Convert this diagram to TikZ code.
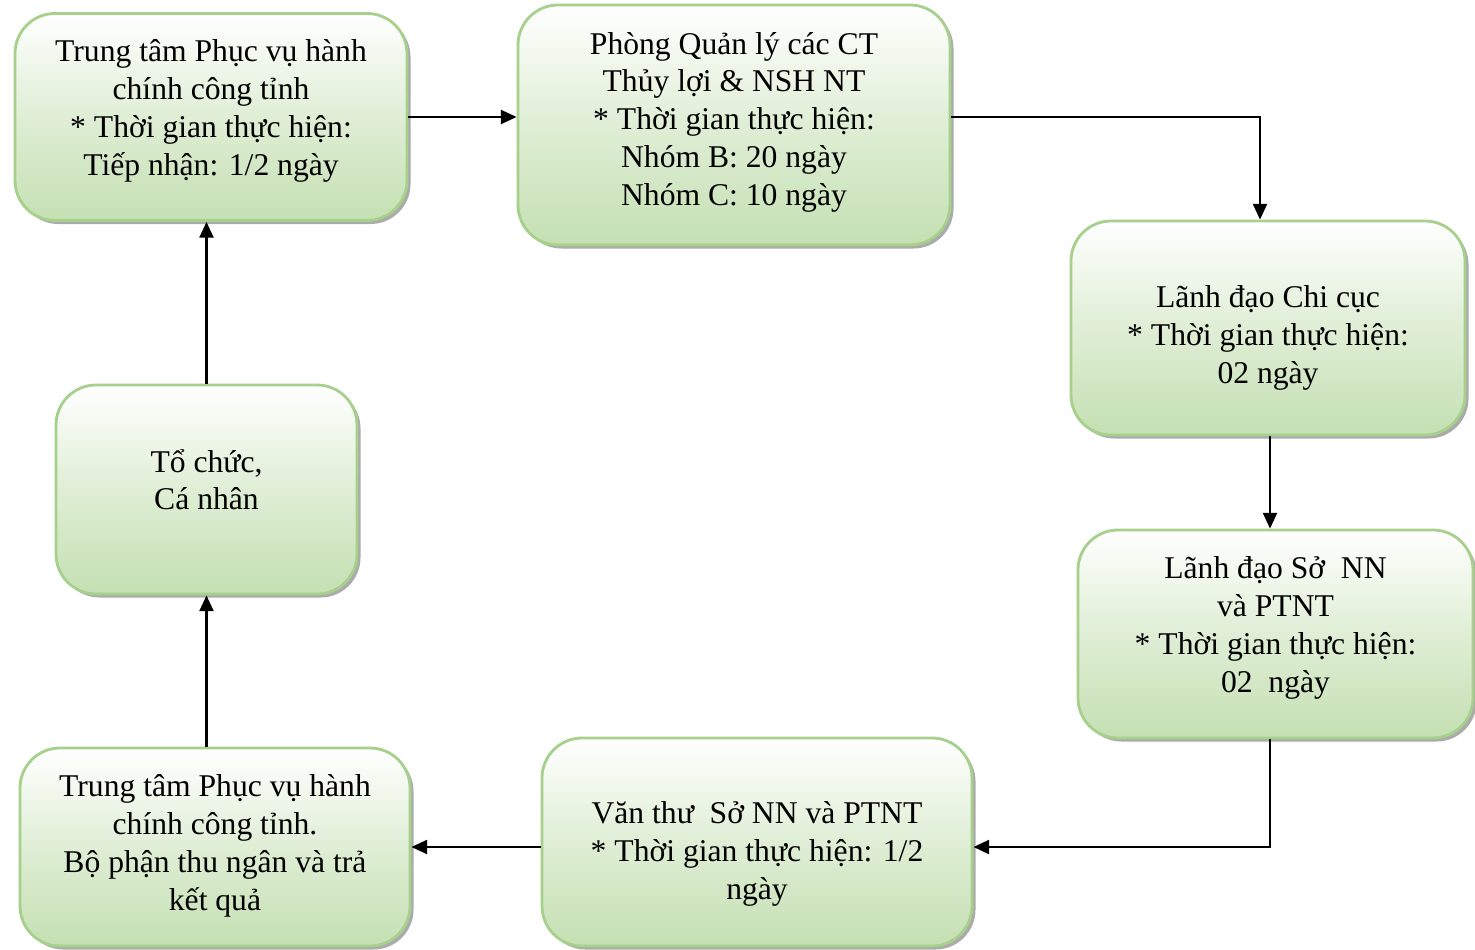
\documentclass[tikz,border=0pt]{standalone}
\usepackage{fontspec}
\setmainfont{Liberation Serif}
\usepackage{tikz}
\usetikzlibrary{positioning, arrows.meta, shadows}

\definecolor{boxgreen}{HTML}{C5E0B3}
\definecolor{boxedge}{HTML}{A6D08C}

% text lines of a stage, moved down by #1 inside its box
\newcommand{\stagetext}[2]{\raisebox{-#1}[\height][\depth]{\begin{tabular}{@{}c@{}}#2\end{tabular}}}

\begin{document}
\begin{tikzpicture}[->,>={Triangle[length=9pt,width=8pt]},line width=1.3pt,
        stage/.style={draw=boxedge, line width=1.6pt, rounded corners=0.8cm,
            top color=white, bottom color=boxgreen, middle color=boxgreen!55!white,
            drop shadow={shadow xshift=2pt, shadow yshift=-2pt, opacity=0.6, fill=black!55},
            inner sep=0pt, font=\fontsize{18}{21.5}\selectfont}]

        \useasboundingbox (0,0) rectangle (29.5,18.98);

        \node[stage, minimum width=7.84cm, minimum height=4.14cm] (ttc) at (4.22,16.64)
            {\stagetext{-3.4pt}{Trung tâm Phục vụ hành\\chính công tỉnh\\{*} Thời gian thực hiện:\\Tiếp nhận: 1/2 ngày}};
        \node[stage, minimum width=8.64cm, minimum height=4.8cm]  (phong) at (14.68,16.48)
            {\stagetext{-1.7pt}{Phòng Quản lý các CT\\Thủy lợi \& NSH NT\\{*} Thời gian thực hiện:\\Nhóm B: 20 ngày\\Nhóm C: 10 ngày}};
        \node[stage, minimum width=7.88cm, minimum height=4.28cm] (chicuc) at (25.36,12.42)
            {\stagetext{5.7pt}{Lãnh đạo Chi cục\\{*} Thời gian thực hiện:\\02 ngày}};
        \node[stage, minimum width=7.9cm, minimum height=4.16cm]  (so) at (25.51,6.30)
            {\stagetext{-3.4pt}{Lãnh đạo Sở\ \ NN\\và PTNT\\{*} Thời gian thực hiện:\\02\ \ ngày}};
        \node[stage, minimum width=8.6cm, minimum height=4.16cm]  (vanthu) at (15.14,2.14)
            {\stagetext{6.8pt}{Văn thư\ \ Sở NN và PTNT\\{*} Thời gian thực hiện: 1/2\\ngày}};
        \node[stage, minimum width=7.8cm, minimum height=3.96cm]  (tra) at (4.30,2.04)
            {\stagetext{-0.6pt}{Trung tâm Phục vụ hành\\chính công tỉnh.\\Bộ phận thu ngân và trả\\kết quả}};
        \node[stage, minimum width=6.02cm, minimum height=4.18cm] (tochuc) at (4.13,9.19)
            {\stagetext{-3.4pt}{Tổ chức,\\Cá nhân}};

        \draw (ttc.east) -- (ttc.east -| phong.west);
        \draw (phong.east |- ttc.east) -| ([xshift=-0.16cm]chicuc.north);
        \draw ([xshift=0.04cm]chicuc.south) -- ([xshift=0.04cm]chicuc.south |- so.north);
        \draw ([xshift=-0.11cm]so.south) |- ([yshift=-0.1cm]vanthu.east);
        \draw ([yshift=-0.1cm]vanthu.west) -- ([yshift=-0.1cm]vanthu.west -| tra.east);
        \draw (tochuc.south |- tra.north) -- (tochuc.south);
        \draw (tochuc.north) -- (tochuc.north |- ttc.south);

\end{tikzpicture}
\end{document}
